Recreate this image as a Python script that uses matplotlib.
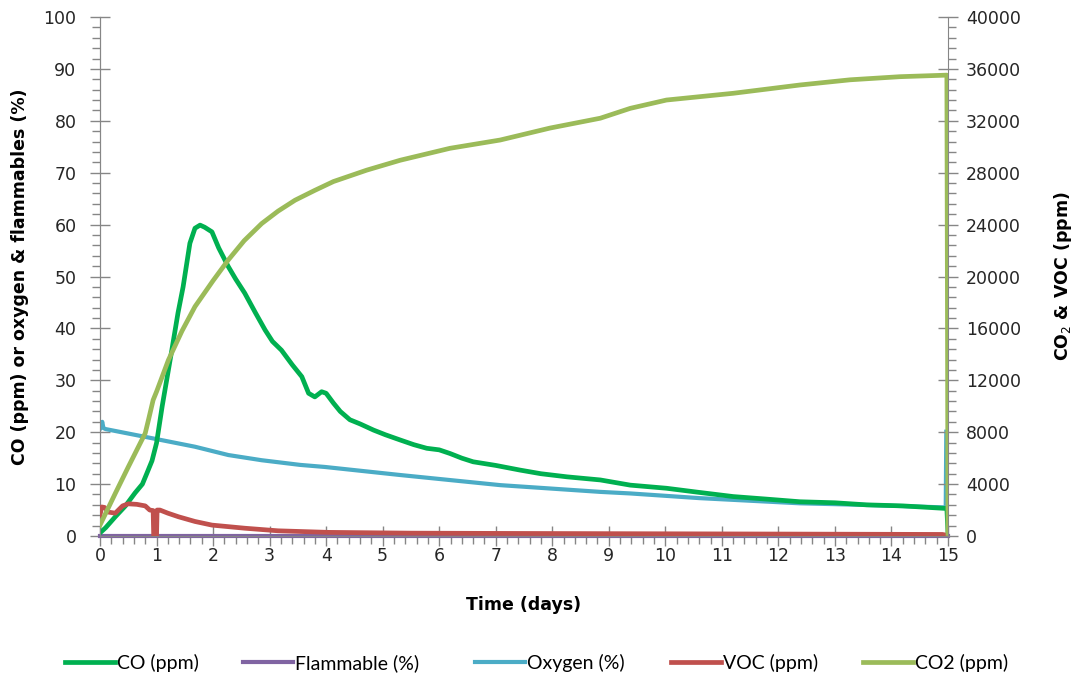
import matplotlib
matplotlib.use("Agg")
import matplotlib.pyplot as plt
from matplotlib.ticker import MultipleLocator

plt.rcParams['font.family'] = ['DejaVu Sans']

# ---- data ----
t_co = [0, 0.1, 0.27, 0.45, 0.62, 0.75, 0.83, 0.92, 1.0, 1.1, 1.27, 1.38, 1.47, 1.59,
        1.68, 1.77, 1.85, 1.98, 2.1, 2.27, 2.4, 2.56, 2.75, 2.92, 3.05, 3.21, 3.4, 3.57,
        3.69, 3.8, 3.92, 4.0, 4.13, 4.25, 4.42, 4.6, 4.84, 5.05, 5.31, 5.55, 5.78, 6.0,
        6.19, 6.4, 6.6, 7.0, 7.43, 7.8, 8.26, 8.85, 9.38, 10.02, 10.6, 11.2, 11.8, 12.38,
        13.0, 13.56, 14.2, 14.98, 15.0]
co = [0.6, 1.6, 3.7, 5.8, 8.3, 10.0, 12.1, 14.5, 17.9, 25, 35.8, 43, 48, 56.4,
      59.3, 59.9, 59.5, 58.6, 55.5, 51.9, 49.5, 46.8, 43, 39.7, 37.5, 35.8, 33, 30.7,
      27.5, 26.8, 27.8, 27.5, 25.6, 24, 22.4, 21.6, 20.4, 19.5, 18.5, 17.6, 16.9, 16.6,
      15.9, 15, 14.3, 13.6, 12.7, 12.0, 11.4, 10.8, 9.8, 9.2, 8.4, 7.6, 7.1, 6.6,
      6.4, 6.0, 5.8, 5.3, 0.6]

t_flam = [0, 15]
flam = [0, 0]

t_o2 = [0, 0.04, 0.06, 0.1, 0.8, 1.68, 2.27, 2.86, 3.54, 3.98, 5.31, 7.08, 8.85,
        9.38, 10.6, 12.38, 13.5, 14.96, 14.97]
o2 = [20.7, 22, 20.8, 20.6, 19.1, 17.2, 15.6, 14.6, 13.7, 13.3, 11.75, 9.8, 8.5,
      8.2, 7.3, 6.3, 6.0, 5.5, 20.1]

t_voc = [0, 0.03, 0.08, 0.15, 0.27, 0.4, 0.5, 0.65, 0.8, 0.88, 0.94, 0.95, 1.0, 1.01,
         1.06, 1.2, 1.39, 1.68, 1.98, 2.56, 3.15, 4.04, 5.5, 7, 9, 11, 13, 14.9, 15.0]
voc = [1600, 2240, 2200, 1840, 1760, 2320, 2480, 2440, 2320, 2000, 1960, 0, 0, 2000,
       2000, 1760, 1480, 1120, 840, 600, 400, 280, 220, 200, 180, 160, 140, 120, 40]

t_co2 = [0, 0.27, 0.5, 0.8, 0.86, 0.94, 1.0, 1.21, 1.45, 1.68, 2.0, 2.27, 2.55, 2.86,
         3.15, 3.45, 3.8, 4.13, 4.72, 5.31, 6.19, 7.08, 7.96, 8.85, 9.38, 10.02, 11.2,
         12.38, 13.27, 14.15, 14.98, 15.0]
co2 = [840, 3280, 5320, 7920, 9000, 10480, 11120, 13560, 15800, 17680, 19680, 21280,
       22760, 24080, 25040, 25880, 26640, 27320, 28200, 28960, 29880, 30520, 31440,
       32200, 32960, 33600, 34120, 34760, 35160, 35400, 35520, 200]

series_labels = ['CO (ppm)', 'Flammable (%)', 'Oxygen (%)', 'VOC (ppm)', 'CO2 (ppm)']

x_ticks = list(range(0, 16))
left_ticks = list(range(0, 101, 10))
right_ticks = list(range(0, 40001, 4000))

# ---- figure ----
W, H = 1078, 681
fig = plt.figure(figsize=(W/100, H/100), dpi=100)
ax = fig.add_axes([100/W, 1-536/H, 848/W, 519/H])
ax2 = ax.twinx()

c_co, c_fl, c_o2, c_voc, c_co2 = '#00B050', '#8064A2', '#4BACC6', '#C0504D', '#9BBB59'
lw = 3.0

l_fl, = ax.plot(t_flam, flam, color=c_fl, lw=lw, clip_on=False, zorder=2)
l_o2, = ax.plot(t_o2, o2, color=c_o2, lw=lw, zorder=3)
l_co, = ax.plot(t_co, co, color=c_co, lw=lw + 0.4, zorder=4)
l_voc, = ax2.plot(t_voc, voc, color=c_voc, lw=lw + 0.4, zorder=3)
l_co2, = ax2.plot(t_co2, co2, color=c_co2, lw=lw + 0.4, zorder=4)

ax.set_xlim(0, 15)
ax.set_ylim(0, 100)
ax2.set_ylim(0, 40000)
ax.set_xticks(x_ticks)
ax.set_yticks(left_ticks)
ax2.set_yticks(right_ticks)
ax.xaxis.set_minor_locator(MultipleLocator(0.2))
ax.yaxis.set_minor_locator(MultipleLocator(2))
ax2.yaxis.set_minor_locator(MultipleLocator(800))

gray = '#868686'
for a in (ax, ax2):
    for s in a.spines.values():
        s.set_color(gray)
    a.spines['top'].set_visible(False)
ax.spines['right'].set_visible(False)

tick_kw = dict(colors=gray, labelcolor='#262626', labelsize=12.5)
ax.tick_params(axis='both', which='major', direction='inout', length=14, width=1, **tick_kw)
ax.tick_params(axis='both', which='minor', direction='out', length=6, width=1, colors=gray)
ax2.tick_params(axis='y', which='major', direction='inout', length=14, width=1, **tick_kw)
ax2.tick_params(axis='y', which='minor', direction='out', length=6, width=1, colors=gray)
ax.tick_params(axis='x', which='major', pad=1)
ax.tick_params(axis='y', which='major', pad=10)
ax2.tick_params(axis='y', which='major', pad=6)

ax.set_xlabel('Time (days)', fontsize=12.5, fontweight='bold', labelpad=22)
ax.set_ylabel('CO (ppm) or oxygen & flammables (%)', fontsize=12.5, fontweight='bold', labelpad=10)
ax2.set_ylabel('CO$_2$ & VOC (ppm)', fontsize=12.5, fontweight='bold', labelpad=22)

# legend: one entry per slot, placed like the reference
handles = [l_co, l_fl, l_o2, l_voc, l_co2]
slot_x = [65, 243, 475, 671, 863]
fs = 14
for h, lab, x0 in zip(handles, series_labels, slot_x):
    fig.legend([h], [lab], loc='center left', bbox_to_anchor=(x0/W, 1-663/H),
               frameon=False, prop={'family': ['Lato', 'DejaVu Sans'], 'size': fs},
               handlelength=50/(fs*100/72), handletextpad=0.1,
               borderpad=0, borderaxespad=0)

fig.savefig('out.png', dpi=100)
